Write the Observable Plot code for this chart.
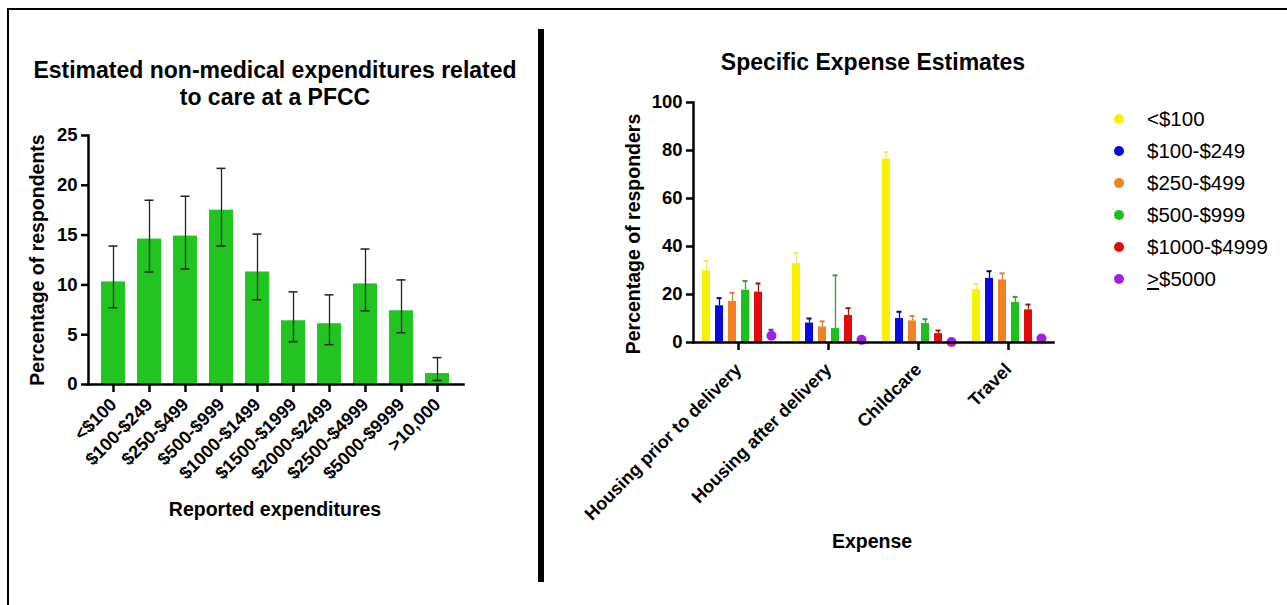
<!DOCTYPE html>
<html><head><meta charset="utf-8">
<script src="https://cdn.jsdelivr.net/npm/d3@7"></script>
<script src="https://cdn.jsdelivr.net/npm/@observablehq/plot@0.6"></script>
<style>
body{margin:0;background:#fff;}
#page{position:relative;width:1287px;height:605px;overflow:hidden;font-family:"Liberation Sans",Arial,sans-serif;color:#000;background:#fff;}
.t{position:absolute;transform:translate(-50%,-50%);white-space:nowrap;font-weight:bold;}
.rot{transform:translate(-50%,-50%) rotate(-90deg);}
#border{position:absolute;left:7px;top:8px;width:1300px;height:620px;border:2px solid #000;}
#divider{position:absolute;left:538px;top:29px;width:6px;height:553px;background:#000;}
#left{position:absolute;left:0;top:120px;}
#right{position:absolute;left:560px;top:80px;}
.leg{position:absolute;left:1114px;font-size:20.5px;line-height:20px;height:20px;white-space:nowrap;}
.leg span.d{display:inline-block;width:10px;height:10px;border-radius:50%;vertical-align:middle;margin-right:23px;position:relative;top:-2px;}
</style></head>
<body><div id="page">
<div id="border"></div>
<div id="divider"></div>
<div class="t" style="left:275px;top:84px;font-size:23px;line-height:27px;text-align:center;">Estimated non-medical expenditures related<br>to care at a PFCC</div>
<div class="t" style="left:873px;top:62px;font-size:23px;">Specific Expense Estimates</div>
<div class="t rot" style="left:37px;top:260px;font-size:19.5px;">Percentage of respondents</div>
<div class="t" style="left:275px;top:509px;font-size:19.5px;">Reported expenditures</div>
<div class="t rot" style="left:633px;top:234px;font-size:19.5px;">Percentage of responders</div>
<div class="t" style="left:872px;top:541px;font-size:19.5px;">Expense</div>
<div id="left"></div>
<div id="right"></div>
<div id="legend"></div>
</div>
<script>
// ---------- Left chart data ----------
const spendCats = ["<$100","$100-$249","$250-$499","$500-$999","$1000-$1499","$1500-$1999","$2000-$2499","$2500-$4999","$5000-$9999",">10,000"];
const spendPct  = [10.3, 14.6, 14.9, 17.5, 11.3, 6.4, 6.1, 10.1, 7.4, 1.1];
const spendHi   = [13.9, 18.5, 18.9, 21.7, 15.1, 9.3, 9.0, 13.6, 10.5, 2.7];
const spendLo   = [7.7, 11.3, 11.6, 13.9, 8.5, 4.3, 4.0, 7.4, 5.2, 0.4];
const leftTicks = [0, 5, 10, 15, 20, 25];

// ---------- Right chart data ----------
const expenseCats = ["Housing prior to delivery","Housing after delivery","Childcare","Travel"];
const rangeCats   = ["<$100","$100-$249","$250-$499","$500-$999","$1000-$4999","≥$5000"];
const rangeColors = ["#f7f200","#0a0ae0","#f28322","#1fbe1f","#e30a0a","#a21ee0"];
const errColors   = ["#ecea70","#000090","#c98a3a","#3f9a3f","#a01010","#7a20a8"];
const valLt100  = [29.9, 32.9, 76.4, 22.0];
const val100    = [15.3, 8.1, 10.0, 26.7];
const val250    = [17.1, 6.5, 9.0, 26.1];
const val500    = [21.8, 5.8, 7.9, 16.7];
const val1000   = [21.0, 11.3, 3.7, 13.6];
const val5000   = [2.8, 1.1, 0.2, 1.7];
const hiLt100   = [34.0, 37.2, 79.3, 24.3];
const hi100     = [18.5, 10.0, 12.8, 29.7];
const hi250     = [20.7, 8.8, 11.0, 28.8];
const hi500     = [25.6, 28.0, 9.7, 19.0];
const hi1000    = [24.6, 14.3, 5.0, 15.8];
const hi5000    = [5.3, 2.0, 0.6, 3.0];
const rightTicks = [0, 20, 40, 60, 80, 100];

const font = "'Liberation Sans', Arial, sans-serif";

// ---------- Left chart ----------
const leftRows = spendCats.map((c, i) => ({cat: c, v: spendPct[i], hi: spendHi[i], lo: spendLo[i]}));
const left = Plot.plot({
  width: 540, height: 420,
  marginLeft: 88, marginRight: 77, marginTop: 15, marginBottom: 156,
  style: {fontFamily: font, fontWeight: "bold", color: "#000", background: "transparent", overflow: "visible"},
  x: {domain: spendCats, range: [94, 456], paddingInner: 0.34, paddingOuter: 0.17, label: null},
  y: {domain: [0, 25], label: null},
  marks: [
    Plot.barY(leftRows, {x: "cat", y: "v", fill: "#22c422"}),
    Plot.ruleX(leftRows, {x: "cat", y1: "lo", y2: "hi", stroke: "#222", strokeWidth: 1.3}),
    Plot.tickY(leftRows, {x: "cat", y: "hi", stroke: "#222", strokeWidth: 1.5, insetLeft: 7.5, insetRight: 7.5}),
    Plot.tickY(leftRows, {x: "cat", y: "lo", stroke: "#222", strokeWidth: 1.5, insetLeft: 7.5, insetRight: 7.5}),
    Plot.axisY({ticks: leftTicks, tickSize: 7, tickPadding: 4, strokeWidth: 2.5, fontSize: 18.5, label: null}),
    Plot.axisX({tickSize: 8, tickPadding: 9, tickRotate: -45, strokeWidth: 2.5, fontSize: 18, label: null}),
    Plot.frame({anchor: "left", strokeWidth: 2.5}),
    Plot.frame({anchor: "bottom", strokeWidth: 2.5})
  ]
});
document.getElementById("left").appendChild(left);

// ---------- Right chart ----------
const vals = [valLt100, val100, val250, val500, val1000, val5000];
const his = [hiLt100, hi100, hi250, hi500, hi1000, hi5000];
const rows = [];
rangeCats.forEach((r, i) => expenseCats.forEach((e, j) => rows.push({
  expense: e, range: r, value: vals[i][j], hi: his[i][j], fill: rangeColors[i], err: errColors[i]
})));
const last = rangeCats[rangeCats.length - 1];
const right = Plot.plot({
  width: 520, height: 480,
  marginLeft: 125, marginRight: 27, marginTop: 22, marginBottom: 218,
  style: {fontFamily: font, fontWeight: "bold", color: "#000", background: "transparent", overflow: "visible"},
  fx: {domain: expenseCats, range: [131.6, 494.4], paddingInner: 0, paddingOuter: 0, label: null},
  x: {domain: rangeCats, paddingInner: 0.42, paddingOuter: 0.5, axis: null},
  y: {domain: [0, 100], label: null},
  color: {type: "identity"},
  marks: [
    Plot.ruleX(rows, {fx: "expense", x: "range", y1: "value", y2: "hi", stroke: "err", strokeWidth: 1.3}),
    Plot.tickY(rows, {fx: "expense", x: "range", y: "hi", stroke: "err", strokeWidth: 2, insetLeft: 1.5, insetRight: 1.5}),
    Plot.barY(rows.filter(d => d.range !== last), {fx: "expense", x: "range", y: "value", fill: "fill"}),
    Plot.dot(rows.filter(d => d.range === last), {fx: "expense", x: "range", y: "value", r: 5, fill: "fill"}),
    Plot.axisY({ticks: rightTicks, tickSize: 7, tickPadding: 4, strokeWidth: 2.5, fontSize: 18.5, label: null}),
    Plot.axisFx({anchor: "bottom", tickSize: 8, tickPadding: 16, tickRotate: -45, strokeWidth: 2.5, fontSize: 18, label: null}),
    Plot.frame({anchor: "left", facet: "super", strokeWidth: 2.5}),
    Plot.frame({anchor: "bottom", facet: "super", strokeWidth: 2.5})
  ]
});
document.getElementById("right").appendChild(right);

// ---------- Legend ----------
const legTops = [119, 151, 183, 215, 247, 279];
const legend = document.getElementById("legend");
rangeCats.forEach((r, i) => {
  const div = document.createElement("div");
  div.className = "leg";
  div.style.top = (legTops[i] - 10) + "px";
  const label = r === "≥$5000" ? "<u>&gt;</u>$5000" : r.replace("<", "&lt;");
  div.innerHTML = `<span class="d" style="background:${rangeColors[i]}"></span>${label}`;
  legend.appendChild(div);
});
</script>
</body></html>
